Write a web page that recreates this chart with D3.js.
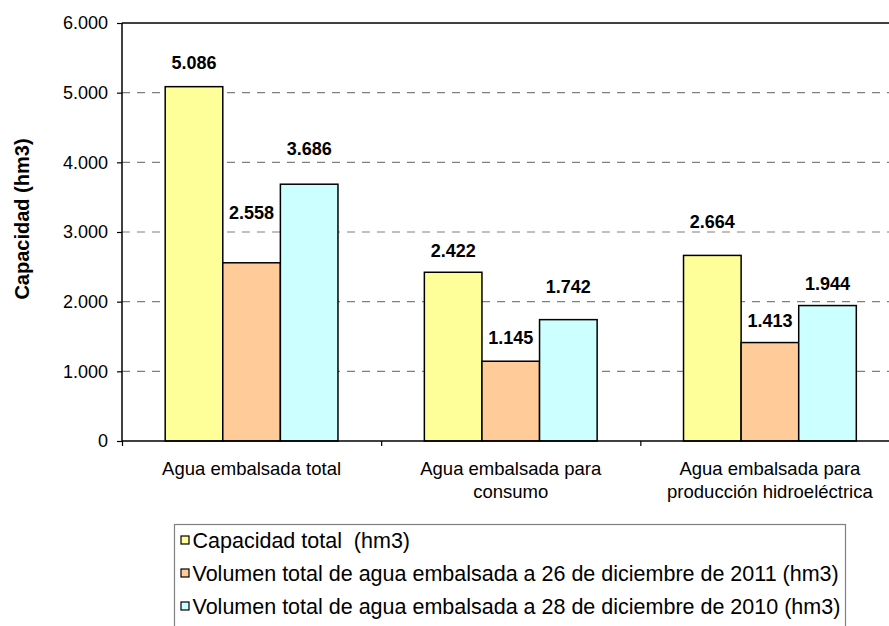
<!DOCTYPE html>
<html><head><meta charset="utf-8">
<script src="https://cdn.jsdelivr.net/npm/d3@7"></script>
<style>
html,body{margin:0;padding:0;background:#fff;}
svg{display:block;font-family:"Liberation Sans",Arial,sans-serif;}
</style></head>
<body>
<svg id="chart" width="889" height="626"></svg>
<script>
const categories = [
  ["Agua embalsada total"],
  ["Agua embalsada para", "consumo"],
  ["Agua embalsada para", "producción hidroeléctrica"]
];
const seriesNames = [
  "Capacidad total  (hm3)",
  "Volumen total de agua embalsada a 26 de diciembre de 2011 (hm3)",
  "Volumen total de agua embalsada a 28 de diciembre de 2010 (hm3)"
];
const capacidadTotal = [5086, 2422, 2664];
const volumen2011 = [2558, 1145, 1413];
const volumen2010 = [3686, 1742, 1944];
const yTicks = [0, 1000, 2000, 3000, 4000, 5000, 6000];
const yTitle = "Capacidad (hm3)";

const seriesValues = [capacidadTotal, volumen2011, volumen2010];
const colors = ["#FFFF99", "#FFCC99", "#CCFFFF"];
// manual nudges of data labels above bar tops (per series, per category), in px
const labelLift = [[24, 22, 34], [50, 24, 22], [36, 33, 22]];

const svg = d3.select("#chart");
const plot = {left: 122, top: 23, right: 899.5, bottom: 441};

const y = d3.scaleLinear().domain([0, 6000]).range([plot.bottom, plot.top]);
const x0 = d3.scaleBand().domain(d3.range(categories.length)).range([plot.left, plot.right]).padding(0);
const bw = x0.bandwidth();
const barW = bw / 4.5;
const x1 = d3.scaleBand().domain(d3.range(seriesValues.length))
  .range([barW * 0.75, bw - barW * 0.75]).padding(0);

const fmt = v => d3.format(",")(v).replace(/,/g, ".");

// gridlines
svg.append("g").selectAll("line").data(yTicks.filter(t => t > 0 && t < 6000)).join("line")
  .attr("x1", plot.left).attr("x2", 889)
  .attr("y1", d => y(d)).attr("y2", d => y(d))
  .attr("stroke", "#808080").attr("stroke-width", 1.2)
  .attr("stroke-dasharray", "8,7");

// top border
svg.append("line").attr("x1", plot.left).attr("x2", 889)
  .attr("y1", y(6000)).attr("y2", y(6000))
  .attr("stroke", "#000").attr("stroke-width", 1.5);

// bars
seriesValues.forEach((vals, s) => {
  svg.append("g").selectAll("rect").data(vals).join("rect")
    .attr("x", (d, i) => x0(i) + x1(s))
    .attr("width", x1.bandwidth())
    .attr("y", d => y(d))
    .attr("height", d => y(0) - y(d))
    .attr("fill", colors[s])
    .attr("stroke", "#000").attr("stroke-width", 1.5);
});

// value labels
seriesValues.forEach((vals, s) => {
  svg.append("g").selectAll("text").data(vals).join("text")
    .attr("x", (d, i) => x0(i) + x1(s) + x1.bandwidth() / 2)
    .attr("y", (d, i) => y(d) - labelLift[s][i] + 6.5)
    .attr("text-anchor", "middle")
    .attr("font-size", 18).attr("font-weight", "bold").attr("fill", "#000")
    .text(d => fmt(d));
});

// y axis
const yAxis = d3.axisLeft(y).tickValues(yTicks).tickSize(5).tickPadding(9)
  .tickFormat(d => fmt(d));
const gy = svg.append("g").attr("transform", `translate(${plot.left},0)`).call(yAxis);
gy.select(".domain").attr("stroke", "#000").attr("stroke-width", 1.5).attr("d", `M0,${plot.top}V${plot.bottom}`);
gy.selectAll(".tick line").attr("stroke", "#000").attr("stroke-width", 1.2);
gy.selectAll(".tick text").attr("font-size", 18).attr("fill", "#000")
  .attr("font-family", "'Liberation Sans',Arial,sans-serif");

// x axis
const xAxis = d3.axisBottom(d3.scaleLinear().domain([0, 3]).range([plot.left, plot.right]))
  .tickValues([0, 1, 2, 3]).tickSize(5).tickFormat("");
const gx = svg.append("g").attr("transform", `translate(0,${plot.bottom})`).call(xAxis);
gx.select(".domain").attr("stroke", "#000").attr("stroke-width", 1.5).attr("d", `M${plot.left},0H${plot.right}`);
gx.selectAll(".tick line").attr("stroke", "#000").attr("stroke-width", 1.2);

// category labels
const catG = svg.append("g");
categories.forEach((lines, i) => {
  const t = catG.append("text")
    .attr("x", x0(i) + bw / 2).attr("y", 475)
    .attr("text-anchor", "middle").attr("font-size", 18.5).attr("fill", "#000");
  lines.forEach((ln, k) => {
    t.append("tspan").attr("x", x0(i) + bw / 2).attr("dy", k === 0 ? 0 : 23).text(ln);
  });
});

// y title
svg.append("text")
  .attr("transform", `translate(29,${219}) rotate(-90)`)
  .attr("text-anchor", "middle").attr("font-size", 20).attr("font-weight", "bold")
  .attr("fill", "#000").text(yTitle);

// legend
const lg = svg.append("g");
lg.append("rect").attr("x", 174.5).attr("y", 524.5).attr("width", 671).attr("height", 130)
  .attr("fill", "#fff").attr("stroke", "#808080").attr("stroke-width", 1.2);
seriesNames.forEach((name, s) => {
  const base = 548 + s * 33;
  lg.append("rect").attr("x", 181).attr("y", base - 12).attr("width", 8).attr("height", 8)
    .attr("fill", colors[s]).attr("stroke", "#000").attr("stroke-width", 1.2);
  lg.append("text").attr("x", 192.5).attr("y", base)
    .attr("font-size", 21.5).attr("fill", "#000")
    .style("white-space", "pre").text(name);
});
</script>
</body></html>
